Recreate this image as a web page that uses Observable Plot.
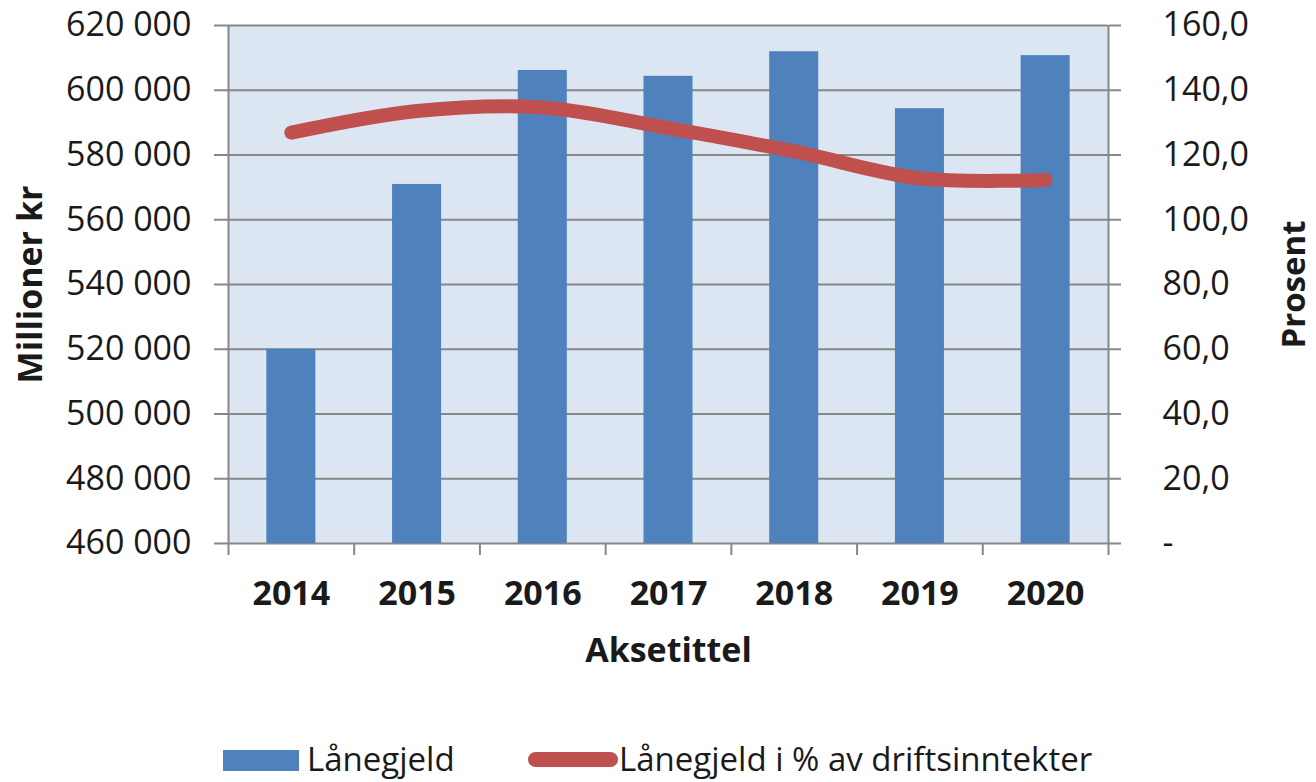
<!DOCTYPE html>
<html>
<head>
<meta charset="utf-8">
<script src="https://cdn.jsdelivr.net/npm/d3@7"></script>
<script src="https://cdn.jsdelivr.net/npm/@observablehq/plot@0.6"></script>
<style>
  html, body { margin: 0; padding: 0; background: #fff; }
  #wrap { position: relative; width: 1316px; height: 782px; font-family: "Open Sans", Lato, sans-serif; color: #1a1a1a; }
  #legend { position: absolute; left: 0; top: 700px; width: 1316px; height: 82px; }
  .sw { position: absolute; }
  .lt { position: absolute; font-size: 33px; line-height: 1; white-space: nowrap; }
</style>
</head>
<body>
<div id="wrap">
  <div id="chart"></div>
  <div id="legend">
    <div class="sw" style="left:223px; top:50px; width:76px; height:21px; background:#4f81bd;"></div>
    <div class="lt" style="left:307px; top:42px;">Lånegjeld</div>
    <div class="sw" style="left:528px; top:52px; width:90px; height:15px; border-radius:7.5px; background:#c0504d;"></div>
    <div class="lt" style="left:619px; top:42px;">Lånegjeld i % av driftsinntekter</div>
  </div>
</div>
<script>
const years = ["2014", "2015", "2016", "2017", "2018", "2019", "2020"];
const laanegjeld = [520000, 570900, 606100, 604300, 611900, 594300, 610700];
const prosent = [126.9, 133.6, 134.7, 128.3, 121.1, 112.8, 112.3];
const leftTicks = [460000, 480000, 500000, 520000, 540000, 560000, 580000, 600000, 620000];
const rightTicks = [0, 20, 40, 60, 80, 100, 120, 140, 160];

// map percent (right axis) onto left scale: 0 -> 460000, 160 -> 620000
const yMin = 460000, pctFactor = 1000;
const toLeft = (p) => yMin + p * pctFactor;

const data = years.map((y, i) => ({ year: y, i, value: laanegjeld[i], pct: prosent[i] }));

const grid = "#878787";
const ink = "#1a1a1a";
const fmtLeft = (d) => d3.format(",")(d).replace(/,/g, " ");
const fmtRight = (d) => {
  const p = (d - yMin) / pctFactor;
  return p === 0 ? "-" : p.toFixed(1).replace(".", ",");
};

const chart = Plot.plot({
  width: 1316,
  height: 700,
  marginLeft: 228,
  marginRight: 208,
  marginTop: 25,
  marginBottom: 157,
  style: { fontFamily: "'Open Sans', Lato, sans-serif", fontSize: "34px", color: ink, background: "transparent" },
  x: { type: "linear", domain: [0, years.length] },
  y: { domain: [460000, 620000] },
  marks: [
    Plot.frame({ fill: "#dce6f2", stroke: null }),
    Plot.ruleY(leftTicks, { stroke: grid, strokeWidth: 2 }),
    Plot.ruleX([0, years.length], { stroke: grid, strokeWidth: 2 }),
    Plot.rectY(data, { x1: (d) => d.i + 0.305, x2: (d) => d.i + 0.695, y1: yMin, y2: "value", fill: "#4f81bd" }),
    Plot.line(data, { x: (d) => d.i + 0.5, y: (d) => toLeft(d.pct), stroke: "#c0504d", strokeWidth: 14, curve: "catmull-rom", strokeLinecap: "round" }),
    Plot.axisY({ ticks: leftTicks, tickFormat: fmtLeft, tickSize: 14, tickPadding: 23, stroke: grid, strokeWidth: 2, label: null, fontSize: 34, fill: ink }),
    Plot.axisY({ anchor: "right", ticks: rightTicks.map(toLeft), tickFormat: fmtRight, tickSize: 12, tickPadding: 42, textAnchor: "start", stroke: grid, strokeWidth: 2, label: null, fontSize: 34, fill: ink }),
    Plot.axisX({ ticks: d3.range(years.length + 1), tickFormat: () => "", tickSize: 12, stroke: grid, strokeWidth: 2, label: null }),
    Plot.axisX({ ticks: d3.range(years.length).map((i) => i + 0.5), tickFormat: (d) => years[Math.floor(d)], tickSize: 0, tickPadding: 37, fontWeight: "bold", fontSize: 34, fill: ink, label: null }),
    Plot.text(["Aksetittel"], { frameAnchor: "bottom", textAnchor: "middle", dy: 118, fontWeight: "bold", fontSize: 34, fill: ink }),
    Plot.text(["Millioner kr"], { frameAnchor: "left", textAnchor: "middle", dx: -197, rotate: -90, fontWeight: "bold", fontSize: 34, fill: ink }),
    Plot.text(["Prosent"], { frameAnchor: "right", textAnchor: "middle", dx: 186, rotate: -90, fontWeight: "bold", fontSize: 33, fill: ink })
  ]
});
document.getElementById("chart").appendChild(chart);
</script>
</body>
</html>
